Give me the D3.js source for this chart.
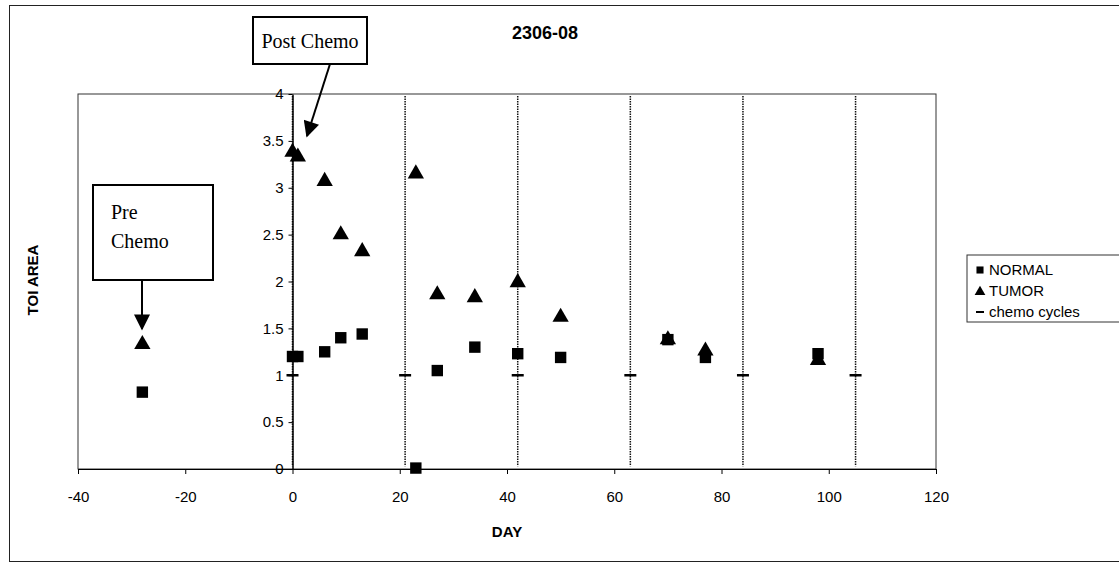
<!DOCTYPE html>
<html>
<head lang="en">
    <meta charset="UTF-8">
    <title>2306-08</title>
    <script src="https://d3js.org/d3.v7.min.js"></script>
    <style type="text/css">
        body { margin: 0; background: #fff; }
        text { font-family: "Liberation Sans", Arial, sans-serif; }
        .serif { font-family: "Liberation Serif", "Times New Roman", serif; }
    </style>
</head>
<body>
<svg id="svg" width="1119" height="565"></svg>
<script>
    // data
    var normalDays = [-28, 0, 1, 6, 9, 13, 23, 27, 34, 42, 50, 70, 77, 98];
    var normalValues = [0.82, 1.2, 1.2, 1.25, 1.4, 1.44, 0.01, 1.05, 1.3, 1.23, 1.19, 1.38, 1.19, 1.23];

    var tumorDays = [-28, 0, 1, 6, 9, 13, 23, 27, 34, 42, 50, 70, 77, 98];
    var tumorValues = [1.33, 3.38, 3.33, 3.07, 2.5, 2.32, 3.15, 1.86, 1.83, 1.99, 1.62, 1.38, 1.26, 1.16];

    var chemoDays = [0, 21, 42, 63, 84, 105];
    var chemoValues = [1, 1, 1, 1, 1, 1];

    var xTicks = [-40, -20, 0, 20, 40, 60, 80, 100, 120];
    var yTicks = [0, 0.5, 1, 1.5, 2, 2.5, 3, 3.5, 4];
    var legendLabels = ["NORMAL", "TUMOR", "chemo cycles"];

    var svg = d3.select("svg");

    var plot = {left: 78, right: 936, top: 94, bottom: 469};
    var x = d3.scaleLinear().domain([-40, 120]).range([plot.left, plot.right]);
    var y = d3.scaleLinear().domain([0, 4]).range([plot.bottom, plot.top]);

    // outer frame
    svg.append("rect")
        .attr("x", 9.5).attr("y", 5.5).attr("width", 1130).attr("height", 556)
        .style("fill", "none").style("stroke", "#222").style("stroke-width", 1);

    // plot area frame
    svg.append("rect")
        .attr("x", plot.left).attr("y", plot.top)
        .attr("width", plot.right - plot.left).attr("height", plot.bottom - plot.top)
        .style("fill", "none").style("stroke", "#333").style("stroke-width", 1);

    // chemo cycle lines (error bars from 0 to 4)
    svg.append("g").selectAll("line")
        .data(chemoDays)
        .enter().append("line")
        .attr("x1", function (d) { return x(d); })
        .attr("x2", function (d) { return x(d); })
        .attr("y1", y(3.98))
        .attr("y2", y(0.03))
        .style("stroke", "#111").style("stroke-width", 1.5)
        .style("stroke-dasharray", "1.5,1");

    // x axis
    var xAxis = d3.axisBottom(x).tickValues(xTicks).tickSize(5).tickSizeOuter(0)
        .tickFormat(function (d) { return String(d); });
    var gx = svg.append("g").attr("transform", "translate(0," + plot.bottom + ")").call(xAxis);
    gx.select(".domain").style("stroke", "#000");
    gx.selectAll("text").attr("y", 22).attr("dy", "0.71em").style("font-size", "15px").style("fill", "#000");

    // y axis at day 0
    var yAxis = d3.axisLeft(y).tickValues(yTicks).tickSize(4).tickSizeOuter(0)
        .tickFormat(function (d) { return String(d); });
    var gy = svg.append("g").attr("transform", "translate(" + x(0) + ",0)").call(yAxis);
    gy.select(".domain").style("stroke", "#000").style("stroke-width", 1.5);
    gy.selectAll("text").attr("x", -9).style("font-size", "15px").style("fill", "#000");

    // chemo markers
    svg.append("g").selectAll("line")
        .data(chemoDays)
        .enter().append("line")
        .attr("x1", function (d) { return x(d) - 6; })
        .attr("x2", function (d) { return x(d) + 6; })
        .attr("y1", function (d, i) { return y(chemoValues[i]); })
        .attr("y2", function (d, i) { return y(chemoValues[i]); })
        .style("stroke", "#000").style("stroke-width", 2.5);

    var square = d3.symbol().type(d3.symbolSquare).size(130);
    var triangle = d3.symbol().type(d3.symbolTriangle).size(115);

    svg.append("g").selectAll("path")
        .data(tumorDays)
        .enter().append("path")
        .attr("d", triangle)
        .attr("transform", function (d, i) { return "translate(" + x(d) + "," + y(tumorValues[i]) + ")"; })
        .style("fill", "#000");

    svg.append("g").selectAll("path")
        .data(normalDays)
        .enter().append("path")
        .attr("d", square)
        .attr("transform", function (d, i) { return "translate(" + x(d) + "," + y(normalValues[i]) + ")"; })
        .style("fill", "#000");

    // titles
    svg.append("text").attr("x", 545).attr("y", 39).attr("text-anchor", "middle")
        .style("font-size", "18px").style("font-weight", "bold").text("2306-08");
    svg.append("text").attr("x", 507).attr("y", 537).attr("text-anchor", "middle")
        .style("font-size", "15px").style("font-weight", "bold").text("DAY");
    svg.append("text").attr("transform", "translate(38,280) rotate(-90)").attr("text-anchor", "middle")
        .style("font-size", "15px").style("font-weight", "bold").text("TOI AREA");

    // annotation: Post Chemo
    svg.append("rect").attr("x", 253).attr("y", 17).attr("width", 114).attr("height", 47)
        .style("fill", "#fff").style("stroke", "#000").style("stroke-width", 2);
    svg.append("text").attr("class", "serif").attr("x", 310).attr("y", 48).attr("text-anchor", "middle")
        .style("font-size", "20px").text("Post Chemo");

    // annotation: Pre Chemo
    svg.append("rect").attr("x", 93).attr("y", 185).attr("width", 120).attr("height", 95)
        .style("fill", "#fff").style("stroke", "#000").style("stroke-width", 2);
    svg.append("text").attr("class", "serif").attr("x", 111).attr("y", 219)
        .style("font-size", "20px").text("Pre");
    svg.append("text").attr("class", "serif").attr("x", 111).attr("y", 248)
        .style("font-size", "20px").text("Chemo");

    // arrows
    var defs = svg.append("defs");
    defs.append("marker").attr("id", "arrow").attr("viewBox", "0 0 10 10")
        .attr("refX", 9).attr("refY", 5)
        .attr("markerUnits", "userSpaceOnUse").attr("orient", "auto")
        .attr("markerWidth", 18).attr("markerHeight", 16)
        .append("path").attr("d", "M0,0 L10,5 L0,10 Z").style("fill", "#000");

    svg.append("line").attr("x1", 330).attr("y1", 64).attr("x2", 307).attr("y2", 136)
        .style("stroke", "#000").style("stroke-width", 2).attr("marker-end", "url(#arrow)");
    svg.append("line").attr("x1", 142).attr("y1", 280).attr("x2", 142).attr("y2", 329)
        .style("stroke", "#000").style("stroke-width", 2).attr("marker-end", "url(#arrow)");

    // legend
    var lg = svg.append("g").attr("transform", "translate(967,255)");
    lg.append("rect").attr("x", 0).attr("y", 0).attr("width", 170).attr("height", 67)
        .style("fill", "#fff").style("stroke", "#333").style("stroke-width", 1);
    lg.append("path").attr("d", d3.symbol().type(d3.symbolSquare).size(50))
        .attr("transform", "translate(13,15)");
    lg.append("path").attr("d", d3.symbol().type(d3.symbolTriangle).size(50))
        .attr("transform", "translate(13,37)");
    lg.append("line").attr("x1", 9).attr("x2", 17).attr("y1", 57).attr("y2", 57)
        .style("stroke", "#000").style("stroke-width", 2);
    lg.selectAll("text.lab")
        .data(legendLabels)
        .enter().append("text").attr("class", "lab")
        .attr("x", 22).attr("y", function (d, i) { return 20 + i * 21; })
        .style("font-size", "15px").text(function (d) { return d; });
</script>
</body>
</html>
